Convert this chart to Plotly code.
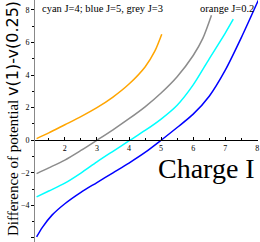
import plotly.graph_objects as go

# Data (charge I vs. potential difference)
orange_I = [1.12, 1.5, 2.0, 2.5, 3.0, 3.5, 4.0, 4.5, 4.8, 5.02]
orange_v = [0.10, 0.45, 0.95, 1.45, 2.0, 2.65, 3.45, 4.5, 5.45, 6.51]

grey_I = [1.12, 1.5, 2.0, 2.5, 3.0, 3.5, 4.0, 4.5, 5.0, 5.5, 6.0, 6.3, 6.57]
grey_v = [-2.05, -1.7, -1.22, -0.63, 0.0, 0.64, 1.32, 2.05, 2.9, 3.9, 5.2, 6.25, 7.67]

cyan_I = [1.12, 1.5, 2.0, 2.5, 3.0, 3.5, 4.03, 4.5, 5.0, 5.5, 6.0, 6.5, 7.0, 7.25]
cyan_v = [-3.48, -3.12, -2.64, -2.02, -1.33, -0.68, 0.0, 0.6, 1.3, 2.15, 3.4, 5.0, 6.58, 7.43]

blue_I = [1.12, 1.3, 1.6, 2.0, 2.5, 3.0, 3.5, 4.0, 4.5, 5.0, 5.5, 6.0, 6.5, 7.0, 7.5, 8.03]
blue_v = [-5.94, -5.35, -4.6, -3.9, -3.2, -2.6, -2.0, -1.4, -0.75, 0.0, 0.78, 1.6, 2.7, 4.3, 6.3, 8.59]

x_ticks = [2, 3, 4, 5, 6, 7, 8]
y_ticks = [-6, -4, -2, 0, 2, 4, 6, 8]

X_RANGE = [1.07, 8.02]
Y_RANGE = [-6.25, 8.61]

SERIF = "Liberation Serif, Times New Roman, serif"

fig = go.Figure()
for xs, ys, col in [(orange_I, orange_v, "#FFA500"), (grey_I, grey_v, "#8C8C8C"),
                    (cyan_I, cyan_v, "#00FFFF"), (blue_I, blue_v, "#0000FF")]:
    fig.add_trace(go.Scatter(x=xs, y=ys, mode="lines",
                             line=dict(color=col, width=1.5, shape="spline", smoothing=0.8),
                             showlegend=False, hoverinfo="skip"))

xpos = (0 - Y_RANGE[0]) / (Y_RANGE[1] - Y_RANGE[0])

fig.update_layout(
    width=260, height=242,
    margin=dict(l=35, r=2, t=0, b=0),
    paper_bgcolor="white", plot_bgcolor="white",
    xaxis=dict(range=X_RANGE, anchor="free", position=xpos,
               showline=True, linecolor="black", linewidth=1,
               tickvals=x_ticks, ticks="inside", ticklen=3, tickcolor="black",
               minor=dict(dtick=0.5, tick0=1, ticks="inside", ticklen=2, tickcolor="black"),
               tickfont=dict(family=SERIF, size=8, color="black"),
               showgrid=False, zeroline=False),
    yaxis=dict(range=Y_RANGE, showline=True, linecolor="#888888", linewidth=1,
               tickvals=y_ticks, ticks="outside", ticklen=3, tickcolor="black",
               minor=dict(dtick=1, tick0=0, ticks="outside", ticklen=2, tickcolor="black"),
               tickfont=dict(family=SERIF, size=8, color="black"),
               showgrid=False, zeroline=False),
)

fig.add_annotation(
    text='Difference of potential <span style="font-family:DejaVu Sans;font-size:16px">v(1)-v(0.25)</span>',
    xref="paper", yref="paper", x=(12 - 35) / 223, y=0.508,
    xanchor="center", yanchor="middle", textangle=-90, showarrow=False,
    font=dict(family=SERIF, size=15, color="black"))
fig.add_annotation(text="Charge I", xref="paper", yref="paper",
                   x=(206 - 35) / 223, y=1 - 168 / 242, xanchor="center", yanchor="middle",
                   showarrow=False, font=dict(family=SERIF, size=28, color="black"))
fig.add_annotation(text="cyan J=4; blue J=5, grey J=3", xref="paper", yref="paper",
                   x=(40 - 35) / 223, y=1 - 8 / 242, xanchor="left", yanchor="middle",
                   showarrow=False, font=dict(family=SERIF, size=10.5, color="black"))
fig.add_annotation(text="orange J=0.2", xref="paper", yref="paper",
                   x=(198 - 35) / 223, y=1 - 8 / 242, xanchor="left", yanchor="middle",
                   showarrow=False, font=dict(family=SERIF, size=10.5, color="black"))

fig.write_html("out.html", config={"displayModeBar": False})

# remove the browser's default page margin so the figure sits at the window's corner
with open("out.html", encoding="utf-8") as f:
    html = f.read()
html = html.replace("<head>", "<head><style>html,body{margin:0;padding:0;overflow:hidden;}</style>", 1)
with open("out.html", "w", encoding="utf-8") as f:
    f.write(html)
